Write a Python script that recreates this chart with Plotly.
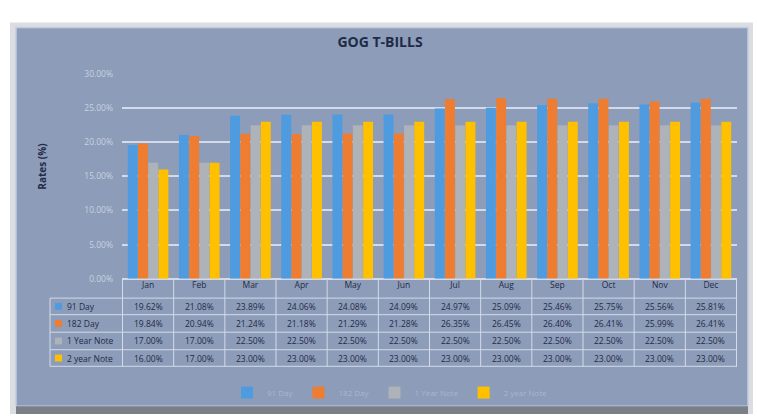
import plotly.graph_objects as go

months = ["Jan", "Feb", "Mar", "Apr", "May", "Jun", "Jul", "Aug", "Sep", "Oct", "Nov", "Dec"]
series_names = ["91 Day", "182 Day", "1 Year Note", "2 year Note"]
day91 = [19.62, 21.08, 23.89, 24.06, 24.08, 24.09, 24.97, 25.09, 25.46, 25.75, 25.56, 25.81]
day182 = [19.84, 20.94, 21.24, 21.18, 21.29, 21.28, 26.35, 26.45, 26.40, 26.41, 25.99, 26.41]
year1 = [17.00, 17.00, 22.50, 22.50, 22.50, 22.50, 22.50, 22.50, 22.50, 22.50, 22.50, 22.50]
year2 = [16.00, 17.00, 23.00, 23.00, 23.00, 23.00, 23.00, 23.00, 23.00, 23.00, 23.00, 23.00]
colors = ["#4e9be0", "#ee7d31", "#aeb2b9", "#ffc000"]
all_series = [day91, day182, year1, year2]

W, H = 757, 419
def px(x):
    return x / W
def py(y):
    return 1 - y / H

BG = "#8d9cb8"
LINE = "#d3dbea"
TXT = "#1f2b47"

fig = go.Figure()
for name, vals, col in zip(series_names, all_series, colors):
    fig.add_trace(go.Bar(
        x=months, y=[v / 100 for v in vals], name=name,
        marker=dict(color=col, line=dict(width=0)),
    ))

shapes = []
shapes.append(dict(type="rect", xref="paper", yref="paper", x0=px(10), x1=px(753), y0=py(419), y1=py(17),
                   fillcolor="#dcdde0", line=dict(width=0), layer="below"))
shapes.append(dict(type="rect", xref="paper", yref="paper", x0=px(16), x1=px(748), y0=py(411), y1=py(22),
                   fillcolor=BG, line=dict(color="#c2cde0", width=1.5), layer="below"))
shapes.append(dict(type="rect", xref="paper", yref="paper", x0=px(16), x1=px(748), y0=py(419), y1=py(411),
                   fillcolor="#7b7f88", line=dict(width=0), layer="below"))

row_lines = [300, 317, 335, 353, 370]
tbl_left = 50
for ry in row_lines:
    shapes.append(dict(type="line", xref="paper", yref="paper", x0=px(tbl_left), x1=px(737),
                       y0=py(ry), y1=py(ry), line=dict(color=LINE, width=1)))
shapes.append(dict(type="line", xref="paper", yref="paper", x0=px(tbl_left), x1=px(tbl_left),
                   y0=py(row_lines[0]), y1=py(row_lines[-1]), line=dict(color=LINE, width=1)))
for i in range(len(months) + 1):
    shapes.append(dict(type="line", xref="x", yref="paper", x0=i - 0.5, x1=i - 0.5,
                       y0=py(280), y1=py(row_lines[-1]), line=dict(color=LINE, width=1)))

annotations = []
for r, (name, col) in enumerate(zip(series_names, colors)):
    yc = (row_lines[r] + row_lines[r + 1]) / 2
    shapes.append(dict(type="rect", xref="paper", yref="paper", x0=px(55), x1=px(62),
                       y0=py(yc + 3.5), y1=py(yc - 3.5), fillcolor=col, line=dict(width=0)))
    annotations.append(dict(xref="paper", yref="paper", x=px(65), y=py(yc), text=name,
                            showarrow=False, xanchor="left", yanchor="middle",
                            font=dict(size=8.5, color=TXT)))
    for m, v in zip(months, all_series[r]):
        annotations.append(dict(xref="x", yref="paper", x=m, y=py(yc), text=f"{v:.2f}%",
                                showarrow=False, xanchor="center", yanchor="middle",
                                font=dict(size=8.5, color=TXT)))

annotations.append(dict(xref="paper", yref="paper", x=px(33), y=py(165), text="<b>Rates (%)</b>",
                        textangle=-90, showarrow=False, font=dict(size=10, color=TXT)))

fig.update_layout(
    width=W, height=H,
    margin=dict(l=0, r=0, t=0, b=0),
    paper_bgcolor="white",
    plot_bgcolor="rgba(0,0,0,0)",
    font=dict(family="Open Sans, Liberation Sans, sans-serif", color=TXT),
    title=dict(text="<b>GOG T-BILLS</b>", x=px(380), y=py(42), xanchor="center", yanchor="middle",
               font=dict(size=14, color=TXT)),
    barmode="group", bargap=0.2, bargroupgap=0.03,
    xaxis=dict(domain=[px(122), px(737)], showgrid=False, showline=False, ticks="",
               tickfont=dict(size=8.5, color=TXT)),
    yaxis=dict(domain=[py(280), py(70)], range=[0, 0.30], dtick=0.05, tickformat=".2%",
               showgrid=True, gridcolor=LINE, gridwidth=1.5, zeroline=True, zerolinecolor=LINE,
               zerolinewidth=1.5, ticklabelstandoff=8, tickfont=dict(size=8.5, color="#c9d2e2")),
    legend=dict(orientation="h", x=px(390), y=py(397), xanchor="center", yanchor="middle",
                font=dict(size=8, color="#a8b7d3"), bgcolor="rgba(0,0,0,0)",
                itemwidth=30, tracegroupgap=0),
    shapes=shapes,
    annotations=annotations,
)

fig.write_html("out.html", config={"displayModeBar": False},
               post_script="document.body.style.margin='0';document.body.style.overflow='hidden';")
